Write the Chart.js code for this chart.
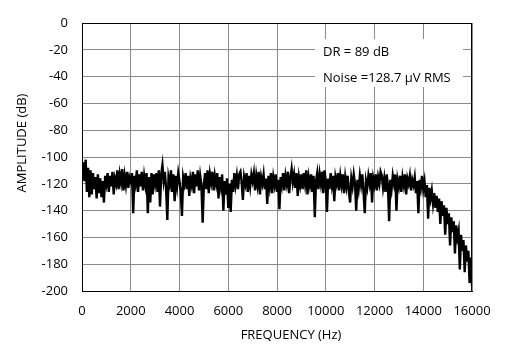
<!DOCTYPE html>
<html>
<head>
<meta charset="utf-8">
<script src="https://cdn.jsdelivr.net/npm/chart.js@4.4.0/dist/chart.umd.min.js"></script>
<style>
  html, body { margin: 0; padding: 0; background: #fff; }
  canvas { display: block; }
</style>
</head>
<body>
<canvas id="fft-canvas" width="517" height="352"></canvas>
<script>
// frequency step of the spectrum trace (Hz)
const freqStep = 50;
const xTicks = [0, 2000, 4000, 6000, 8000, 10000, 12000, 14000, 16000];
const yTicks = [0, -20, -40, -60, -80, -100, -120, -140, -160, -180, -200];

// amplitude in dB, one row per 1000 Hz (20 points each)
const amplitude = [
    -112, -104, -118, -102, -126, -108, -130, -110, -128, -112, -124, -115, -131, -113, -127, -116, -130, -118, -134, -114,
    -120, -112, -126, -114, -122, -111, -128, -116, -120, -110, -124, -113, -119, -109, -125, -114, -121, -111, -123, -115,
    -118, -112, -142, -114, -120, -110, -126, -113, -122, -111, -125, -114, -121, -112, -142, -115, -134, -112, -128, -113,
    -120, -112, -126, -110, -137, -113, -106, -118, -111, -124, -147, -115, -120, -110, -126, -113, -133, -114, -122, -112,
    -118, -126, -144, -115, -120, -112, -124, -114, -129, -116, -121, -111, -127, -113, -122, -110, -125, -114, -121, -149,
    -121, -112, -124, -110, -127, -113, -119, -111, -125, -114, -120, -112, -131, -115, -122, -113, -140, -118, -128, -116,
    -138, -120, -141, -117, -126, -112, -121, -114, -124, -113, -111, -119, -132, -115, -120, -112, -126, -114, -122, -113,
    -118, -112, -125, -114, -121, -111, -128, -115, -120, -113, -124, -116, -135, -114, -122, -112, -127, -115, -121, -113,
    -126, -117, -139, -115, -121, -112, -125, -114, -120, -111, -127, -116, -109, -119, -113, -123, -112, -129, -115, -121,
    -113, -124, -112, -120, -110, -128, -115, -121, -113, -126, -114, -145, -118, -112, -124, -113, -120, -111, -127, -110,
    -118, -141, -116, -124, -112, -121, -114, -133, -115, -120, -112, -125, -114, -121, -113, -127, -115, -122, -114, -126,
    -134, -116, -122, -113, -120, -140, -117, -124, -114, -121, -113, -126, -142, -118, -123, -114, -120, -112, -134, -116,
    -121, -113, -125, -115, -120, -111, -114, -123, -116, -126, -113, -121, -148, -117, -124, -114, -120, -113, -140, -117,
    -122, -114, -126, -115, -121, -113, -128, -116, -120, -114, -125, -117, -121, -115, -127, -118, -142, -117, -123, -114,
    -124, -118, -130, -121, -146, -123, -131, -125, -135, -127, -138, -129, -141, -131, -150, -133, -144, -136, -158, -138,
    -150, -142, -166, -145, -156, -148, -172, -151, -160, -155, -184, -158, -170, -162, -186, -166, -178, -170, -194, -175,
    -196
];
const notes = ["DR = 89 dB", "Noise =128.7 µV RMS"];

const fontFamily = "'Open Sans', 'Liberation Sans', sans-serif";
const gridColor = "#8a8a8a";

document.addEventListener("DOMContentLoaded", () => {
    LoadSpectrumChart();
})

// white text boxes, axis titles and the black plot frame
const extrasPlugin = {
    id: 'extras',
    afterDraw(chart) {
        const ctx = chart.ctx;
        const area = chart.chartArea;
        ctx.save();
        ctx.strokeStyle = "#000";
        ctx.lineWidth = 1;
        ctx.strokeRect(area.left + 0.5, area.top + 0.5, area.right - area.left - 1, area.bottom - area.top);

        const yScale = chart.scales.y;
        ctx.fillStyle = "#fff";
        ctx.fillRect(315, 39, 148, 48);
        ctx.fillStyle = "#000";
        ctx.font = "13px " + fontFamily;
        ctx.textBaseline = "middle";
        ctx.textAlign = "left";
        ctx.fillText(notes[0], 323, yScale.getPixelForValue(-20) + 2);
        ctx.fillText(notes[1], 323, yScale.getPixelForValue(-40) + 2);

        ctx.textAlign = "center";
        ctx.fillText("FREQUENCY (Hz)", 291, 335);
        ctx.translate(22, 143);
        ctx.rotate(-Math.PI / 2);
        ctx.fillText("AMPLITUDE (dB)", 0, 0);
        ctx.restore();
    }
};

function LoadSpectrumChart() {
    const points = amplitude.map((v, i) => ({ x: i * freqStep, y: v }));
    new Chart(
        document.getElementById('fft-canvas'),
        {
            type: 'line',
            data: {
                datasets: [
                    {
                        label: 'Amplitude',
                        data: points,
                        borderColor: "#000",
                        borderWidth: 2.4,
                        pointRadius: 0,
                        tension: 0,
                        fill: false
                    }
                ]
            },
            options: {
                responsive: false,
                animation: false,
                layout: { padding: { top: 23, right: 45, left: 0, bottom: 0 } },
                plugins: {
                    legend: { display: false },
                    tooltip: { enabled: false }
                },
                scales: {
                    x: {
                        type: 'linear',
                        min: 0,
                        max: 16000,
                        afterBuildTicks: s => { s.ticks = xTicks.map(v => ({ value: v })); },
                        afterFit: s => { s.height = 61; },
                        grid: { color: gridColor, drawTicks: false },
                        border: { color: "#000" },
                        ticks: {
                            color: "#000",
                            padding: 12,
                            maxRotation: 0,
                            callback: v => String(v),
                            font: { family: fontFamily, size: 13 }
                        }
                    },
                    y: {
                        min: -200,
                        max: 0,
                        afterBuildTicks: s => { s.ticks = yTicks.map(v => ({ value: v })); },
                        afterFit: s => { s.width = 82; },
                        grid: { color: gridColor, drawTicks: false },
                        border: { color: "#000" },
                        ticks: {
                            color: "#000",
                            padding: 14,
                            callback: v => String(v),
                            font: { family: fontFamily, size: 13 }
                        }
                    }
                }
            },
            plugins: [extrasPlugin]
        }
    );
}
</script>
</body>
</html>
